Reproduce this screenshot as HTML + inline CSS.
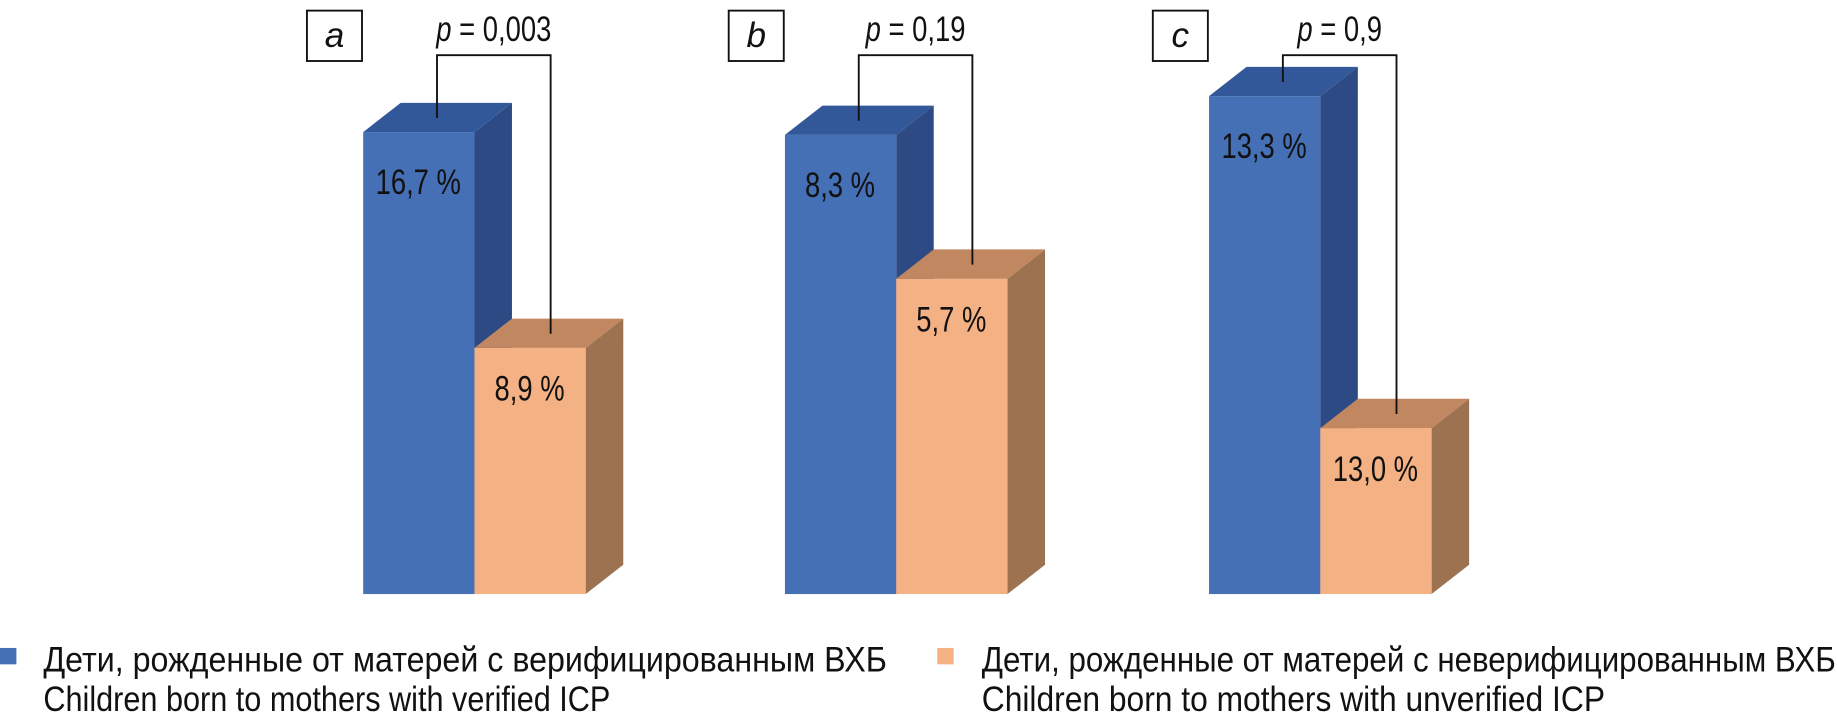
<!DOCTYPE html>
<html><head><meta charset="utf-8">
<style>
html,body{margin:0;padding:0;background:#fff;}
svg{display:block;}
text{font-family:"Liberation Sans Narrow","Liberation Sans","Noto Sans CJK SC",sans-serif;fill:#111;}
</style></head>
<body>
<svg id="chart" width="1837" height="723" viewBox="0 0 1568 617" xmlns="http://www.w3.org/2000/svg">
</svg>
<script>
const panels = ['a','b','c'];
const verified = [16.7, 8.3, 13.3];
const unverified = [8.9, 5.7, 13.0];
const verifiedLabels = ['16,7 %','8,3 %','13,3 %'];
const unverifiedLabels = ['8,9 %','5,7 %','13,0 %'];
const pLabels = ['p = 0,003','p = 0,19','p = 0,9'];
const axisMin = [0, 0, 12.85];
const axisMax = [18, 9, 13.3];

const NS='http://www.w3.org/2000/svg';
const svg=document.getElementById('chart');
function mk(tag,attrs,parent){const e=document.createElementNS(NS,tag);for(const k in attrs)e.setAttribute(k,attrs[k]);(parent||svg).appendChild(e);return e;}
const base=507, plotH=425, bw=95, dx=32, dy=25;
const panelX=[310,670,1032];
const narrowTexts=[];
function yScale(i,v){return base-(v-axisMin[i])/(axisMax[i]-axisMin[i])*plotH;}
const colB={front:'#4570B6',top:'#33589A',side:'#2E4A84'};
const colO={front:'#F4B183',top:'#C08761',side:'#9C7250'};
function bar(g,x,top,c,name){
  const f=mk('rect',{x:x,y:top,width:bw,height:base-top,fill:c.front},g);
  
  
  const s=mk('polygon',{points:`${x+bw},${top} ${x+bw+dx},${top-dy} ${x+bw+dx},${base-dy} ${x+bw},${base}`,fill:c.side},g);
  
  
  const t=mk('polygon',{points:`${x},${top} ${x+dx},${top-dy} ${x+bw+dx},${top-dy} ${x+bw},${top}`,fill:c.top},g);
  
  
}
panels.forEach((p,i)=>{
  const g=mk('g',{});
  
  
  const x=panelX[i];
  const tb=yScale(i,verified[i]), to=yScale(i,unverified[i]);
  bar(g,x,tb,colB,'bar-verified-'+p);
  bar(g,x+bw,to,colO,'bar-unverified-'+p);
  const lb=mk('text',{x:x+47,y:tb+53,'font-size':30,'text-anchor':'middle'},g);
  lb.textContent=verifiedLabels[i];
  
  
  narrowTexts.push(lb);
  const lo=mk('text',{x:x+bw+47,y:to+45,'font-size':30,'text-anchor':'middle'},g);
  lo.textContent=unverifiedLabels[i];
  
  
  narrowTexts.push(lo);
  const lx=x+63, rx=x+bw+65, by=47;
  const br=mk('polyline',{points:`${lx},${tb-12} ${lx},${by} ${rx},${by} ${rx},${to-12}`,fill:'none',stroke:'#111','stroke-width':1.6},g);
  
  
  const pt=mk('text',{x:(lx+rx)/2,y:35,'font-size':30,'text-anchor':'middle'},g);
  const parts=pLabels[i].split(' ');
  const ts=mk('tspan',{'font-style':'italic'},pt);ts.textContent=parts[0];
  const ts2=mk('tspan',{},pt);ts2.textContent=' '+parts.slice(1).join(' ');
  
  
  narrowTexts.push(pt);
  const bx=x-48;
  const box=mk('rect',{x:bx,y:9,width:47,height:43,fill:'none',stroke:'#111','stroke-width':1.6},g);
  
  
  const lt=mk('text',{x:bx+23.5,y:40,'font-size':30,'font-style':'italic','text-anchor':'middle'},g);
  lt.textContent=p;
  
  
});
narrowTexts.forEach(t=>{
  const w=t.getComputedTextLength();
  t.setAttribute('textLength',(w*0.78).toFixed(1));
  t.setAttribute('lengthAdjust','spacingAndGlyphs');
});
</script>
<svg style="position:absolute;left:0;top:0" width="1837" height="723" viewBox="0 0 1568 617" xmlns="http://www.w3.org/2000/svg">
  <g>
    <rect x="0" y="553" width="14" height="14" fill="#4570B6"/>
    <text x="37" y="573" font-size="30" textLength="720" lengthAdjust="spacingAndGlyphs">Дети, рожденные от матерей с верифицированным ВХБ</text>
    <text x="37" y="607" font-size="30" textLength="484" lengthAdjust="spacingAndGlyphs">Children born to mothers with verified ICP</text>
  </g>
  <g>
    <rect x="800" y="553" width="14" height="14" fill="#F4B183"/>
    <text x="838" y="573" font-size="30" textLength="729" lengthAdjust="spacingAndGlyphs">Дети, рожденные от матерей с неверифицированным ВХБ</text>
    <text x="838" y="607" font-size="30" textLength="532" lengthAdjust="spacingAndGlyphs">Children born to mothers with unverified ICP</text>
  </g>
</svg>
</body></html>
